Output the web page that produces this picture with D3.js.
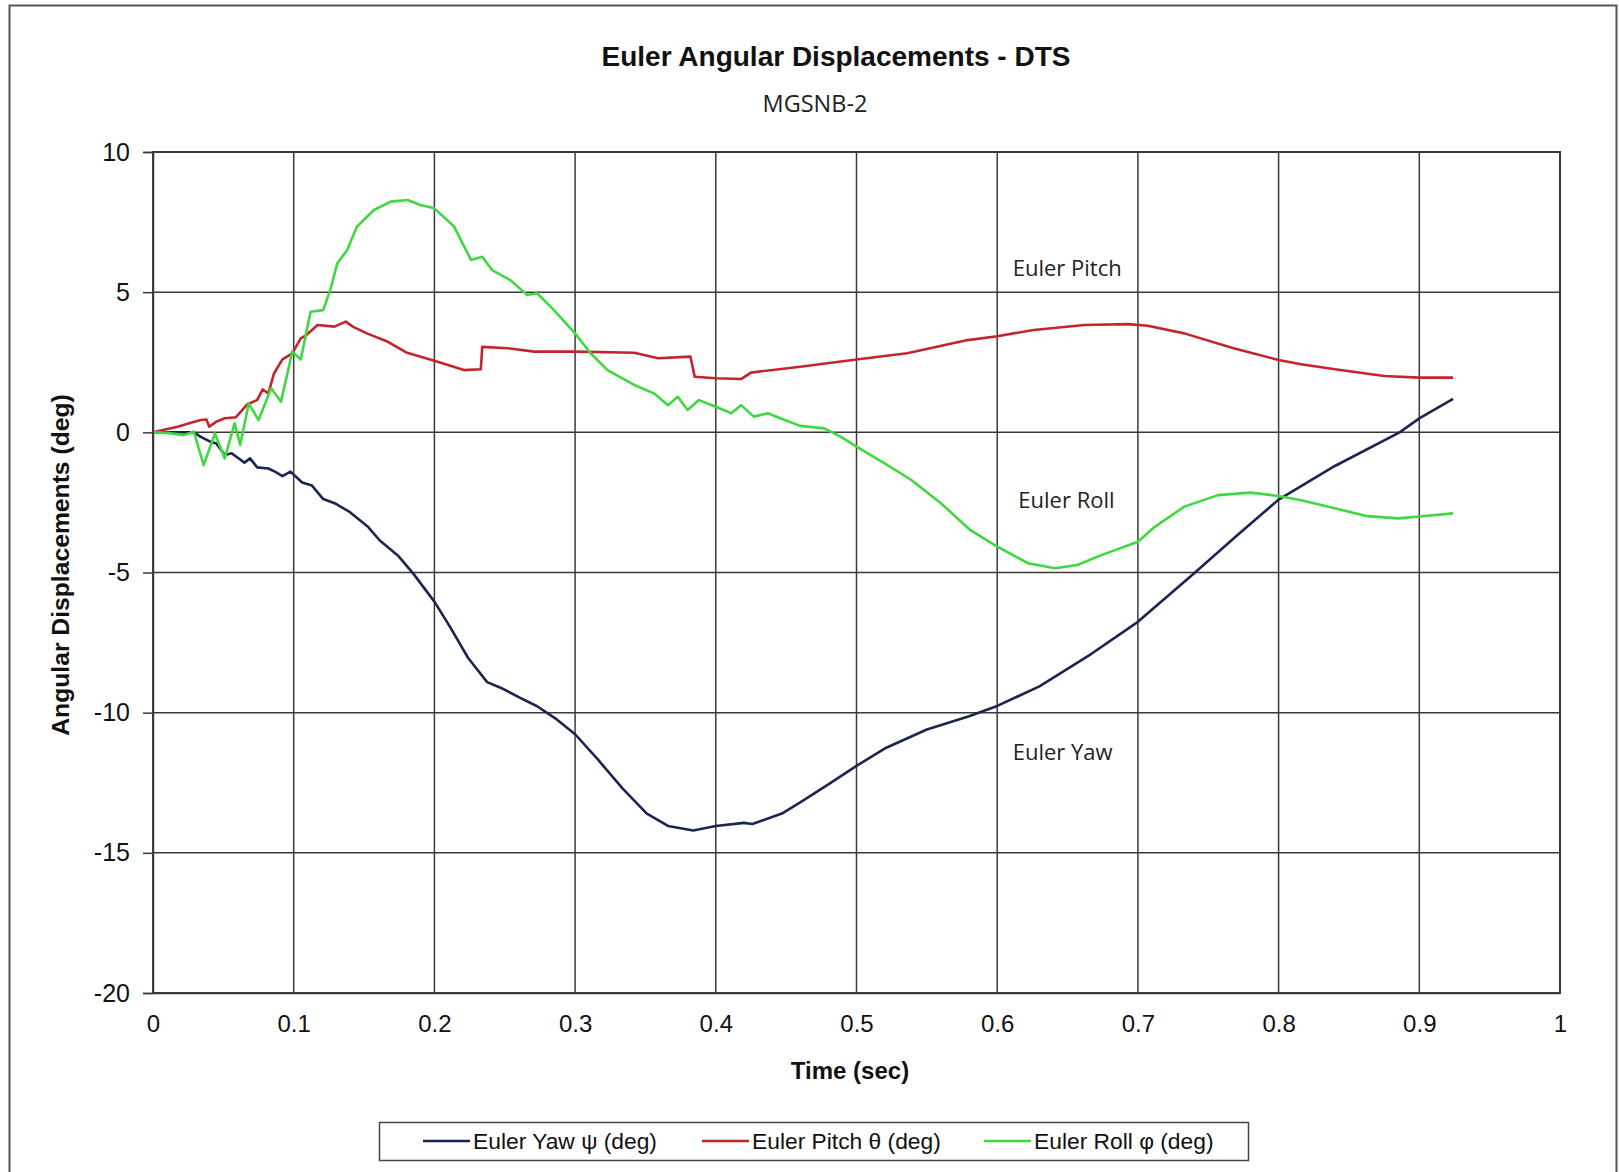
<!DOCTYPE html>
<html>
<head>
<meta charset="utf-8">
<script src="https://cdn.jsdelivr.net/npm/d3@7"></script>
<style>
  html, body { margin: 0; padding: 0; background: #fff; }
  svg { display: block; }
</style>
</head>
<body>
<svg id="chart" width="1619" height="1172"></svg>
<script>
// ---------- DATA ----------
const yTicks = [-20, -15, -10, -5, 0, 5, 10];
const xTicks = [0, 0.1, 0.2, 0.3, 0.4, 0.5, 0.6, 0.7, 0.8, 0.9, 1];

const yawTime = [0,0.015,0.029,0.034,0.041,0.045,0.051,0.056,0.060,0.065,0.069,0.074,0.082,0.087,0.092,0.0977,0.106,0.113,0.121,0.130,0.140,0.153,0.161,0.174,0.185,0.2,0.211,0.224,0.2375,0.247,0.261,0.273,0.287,0.3,0.316,0.334,0.351,0.366,0.384,0.4,0.42,0.426,0.447,0.46,0.48,0.5,0.52,0.55,0.58,0.6,0.63,0.667,0.7,0.74,0.77,0.8,0.84,0.886,0.9,0.924];
const yawDeg  = [0,0,0,-0.16,-0.34,-0.4,-0.81,-0.75,-0.9,-1.08,-0.93,-1.25,-1.29,-1.41,-1.56,-1.40,-1.79,-1.90,-2.38,-2.55,-2.85,-3.38,-3.85,-4.39,-5.04,-6.04,-6.93,-8.05,-8.91,-9.11,-9.47,-9.77,-10.24,-10.77,-11.66,-12.72,-13.6,-14.04,-14.2,-14.04,-13.93,-13.97,-13.6,-13.2,-12.56,-11.9,-11.28,-10.6,-10.13,-9.76,-9.06,-7.9,-6.76,-5.03,-3.7,-2.4,-1.2,0,0.5,1.19];

const pitchTime = [0,0.0175,0.027,0.034,0.038,0.040,0.045,0.051,0.059,0.067,0.074,0.078,0.082,0.086,0.092,0.099,0.105,0.109,0.117,0.129,0.137,0.142,0.152,0.167,0.18,0.2,0.221,0.233,0.234,0.252,0.271,0.3,0.342,0.359,0.382,0.385,0.4,0.418,0.425,0.46,0.5,0.536,0.579,0.6,0.626,0.662,0.693,0.707,0.733,0.768,0.8,0.816,0.84,0.875,0.9,0.924];
const pitchDeg  = [0,0.2,0.34,0.44,0.46,0.2,0.38,0.5,0.54,1.0,1.15,1.53,1.39,2.1,2.6,2.82,3.35,3.47,3.83,3.77,3.95,3.77,3.53,3.23,2.85,2.55,2.22,2.25,3.05,3.0,2.88,2.88,2.84,2.64,2.7,1.98,1.93,1.9,2.13,2.34,2.6,2.82,3.29,3.43,3.65,3.83,3.86,3.8,3.53,3.0,2.58,2.43,2.25,2.01,1.95,1.95];

const rollTime = [0,0.01,0.022,0.029,0.036,0.044,0.051,0.058,0.062,0.068,0.075,0.084,0.091,0.099,0.105,0.112,0.121,0.126,0.131,0.138,0.145,0.157,0.169,0.181,0.19,0.2,0.214,0.226,0.234,0.241,0.254,0.266,0.273,0.285,0.3,0.311,0.323,0.342,0.356,0.366,0.373,0.38,0.388,0.4,0.411,0.418,0.427,0.437,0.449,0.46,0.477,0.489,0.5,0.52,0.539,0.56,0.581,0.6,0.622,0.641,0.657,0.674,0.7,0.712,0.733,0.757,0.78,0.8,0.816,0.84,0.863,0.885,0.9,0.924];
const rollDeg  = [0,-0.02,-0.1,0.03,-1.17,-0.04,-0.93,0.32,-0.45,1.03,0.44,1.57,1.09,2.88,2.6,4.3,4.36,5.08,6.03,6.5,7.34,7.93,8.23,8.29,8.11,7.99,7.34,6.15,6.26,5.79,5.43,4.9,4.96,4.36,3.53,2.82,2.22,1.69,1.39,0.97,1.27,0.8,1.15,0.91,0.68,0.97,0.56,0.68,0.44,0.23,0.14,-0.16,-0.51,-1.11,-1.7,-2.53,-3.49,-4.08,-4.67,-4.85,-4.73,-4.38,-3.9,-3.37,-2.65,-2.24,-2.15,-2.27,-2.42,-2.71,-2.99,-3.07,-3.0,-2.89];

const seriesNames  = ["Euler Yaw \u03c8 (deg)", "Euler Pitch \u03b8 (deg)", "Euler Roll \u03c6 (deg)"];
const seriesColors = ["#1b2550", "#c3252e", "#40d840"];
const annotations  = ["Euler Pitch", "Euler Roll", "Euler Yaw"];
const annotationAt = [[0.611, 5.56], [0.615, -2.7], [0.611, -11.7]];

// ---------- LAYOUT ----------
const svg = d3.select("#chart");
const L = 153, R = 1560, T = 152, B = 993;
const x = d3.scaleLinear().domain([0, 1]).range([L, R]);
const y = d3.scaleLinear().domain([-20, 10]).range([B, T]);
const grid = "#3a3a3a";

// outer frame
svg.append("rect").attr("x", 9.5).attr("y", 5.5).attr("width", 1607).attr("height", 1200)
  .attr("fill", "none").attr("stroke", "#555").attr("stroke-width", 2);

// gridlines
svg.append("g").selectAll("line").data(xTicks).join("line")
  .attr("x1", d => x(d)).attr("x2", d => x(d)).attr("y1", T).attr("y2", B)
  .attr("stroke", grid).attr("stroke-width", 1.5);
svg.append("g").selectAll("line").data(yTicks).join("line")
  .attr("x1", L).attr("x2", R).attr("y1", d => y(d)).attr("y2", d => y(d))
  .attr("stroke", grid).attr("stroke-width", 1.5);

// axes
const yAxis = svg.append("g").attr("transform", `translate(${L},0)`)
  .call(d3.axisLeft(y).tickValues(yTicks).tickSize(10).tickPadding(13).tickFormat(d => String(d)));
const xAxis = svg.append("g").attr("transform", `translate(0,${B})`)
  .call(d3.axisBottom(x).tickValues(xTicks).tickSize(0).tickPadding(22).tickFormat(d => String(d)));
[yAxis, xAxis].forEach(a => {
  a.select(".domain").attr("stroke", grid).attr("stroke-width", 1.5);
  a.selectAll(".tick line").attr("stroke", grid).attr("stroke-width", 1.5);
  a.selectAll(".tick text").attr("font-family", "Liberation Sans, Arial, sans-serif").attr("fill", "#111");
});
yAxis.selectAll(".tick text").attr("font-size", 25);
xAxis.selectAll(".tick text").attr("font-size", 24);

// series
const line = d3.line().x(d => x(d[0])).y(d => y(d[1]));
const series = [
  d3.zip(yawTime, yawDeg),
  d3.zip(pitchTime, pitchDeg),
  d3.zip(rollTime, rollDeg)
];
svg.append("g").selectAll("path").data(series).join("path")
  .attr("d", line).attr("fill", "none")
  .attr("stroke", (d, i) => seriesColors[i]).attr("stroke-width", 2.6)
  .attr("stroke-linejoin", "round");

// plot border
svg.append("rect").attr("x", L).attr("y", T).attr("width", R - L).attr("height", B - T)
  .attr("fill", "none").attr("stroke", grid).attr("stroke-width", 2);

// annotations
svg.append("g").selectAll("text").data(annotations).join("text")
  .attr("x", (d, i) => x(annotationAt[i][0]))
  .attr("y", (d, i) => y(annotationAt[i][1]))
  .attr("font-family", "Open Sans, sans-serif").attr("font-size", 22).attr("fill", "#222")
  .text(d => d);

// titles
svg.append("text").attr("x", 836).attr("y", 66).attr("text-anchor", "middle")
  .attr("font-family", "Liberation Sans, Arial, sans-serif").attr("font-weight", "bold")
  .attr("font-size", 28).attr("fill", "#111").text("Euler Angular Displacements - DTS");
svg.append("text").attr("x", 815).attr("y", 112).attr("text-anchor", "middle")
  .attr("font-family", "Open Sans, sans-serif").attr("font-size", 23.5).attr("fill", "#222")
  .text("MGSNB-2");
svg.append("text").attr("x", 850).attr("y", 1079).attr("text-anchor", "middle")
  .attr("font-family", "Liberation Sans, Arial, sans-serif").attr("font-weight", "bold")
  .attr("font-size", 24).attr("fill", "#111").text("Time (sec)");
svg.append("text").attr("transform", "translate(69,565) rotate(-90)").attr("text-anchor", "middle")
  .attr("font-family", "Liberation Sans, Arial, sans-serif").attr("font-weight", "bold")
  .attr("font-size", 24.7).attr("fill", "#111").text("Angular Displacements (deg)");

// legend
const lg = svg.append("g");
lg.append("rect").attr("x", 379.5).attr("y", 1122.5).attr("width", 869).attr("height", 38)
  .attr("fill", "#fff").attr("stroke", "#444").attr("stroke-width", 1.5);
const legendX = [423, 702, 984];
const items = lg.selectAll("g.item").data(seriesNames).join("g").attr("class", "item")
  .attr("transform", (d, i) => `translate(${legendX[i]},1141)`);
items.append("line").attr("x1", 0).attr("x2", 47).attr("y1", 0).attr("y2", 0)
  .attr("stroke", (d, i) => seriesColors[i]).attr("stroke-width", 2.6);
items.append("text").attr("x", 50).attr("y", 8)
  .attr("font-family", "Liberation Sans, Arial, sans-serif").attr("font-size", 22.8).attr("fill", "#111")
  .text(d => d);
</script>
</body>
</html>
